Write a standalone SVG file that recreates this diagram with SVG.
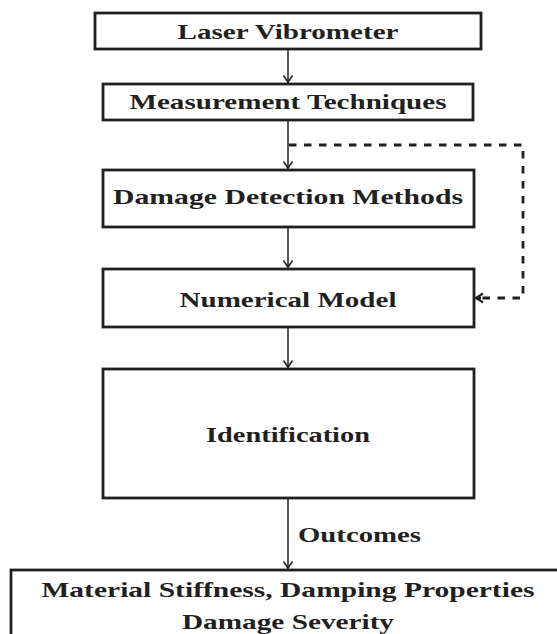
<svg xmlns="http://www.w3.org/2000/svg" width="557" height="634" viewBox="0 0 557 634">
<style>
.box{fill:#fff;stroke:#231f20;stroke-width:2.8}
.lbl{font-family:"Liberation Serif","DejaVu Serif",serif;font-weight:bold;font-size:22px;fill:#231f20;text-anchor:middle}
.ar{fill:none;stroke:#231f20;stroke-width:1.5}
.dash{fill:none;stroke:#231f20;stroke-width:2.8;stroke-dasharray:7.5 7.5}
</style>
<defs>
<marker id="head" viewBox="-8 -6 9 12" refX="0" refY="0" markerWidth="9" markerHeight="12" markerUnits="userSpaceOnUse" orient="auto">
<path d="M -7 -4.5 Q -2 -1 0 0 Q -2 1 -7 4.5" fill="none" stroke="#231f20" stroke-width="1.5"/>
</marker>
<marker id="headb" viewBox="-8 -6 9 12" refX="0" refY="0" markerWidth="9" markerHeight="12" markerUnits="userSpaceOnUse" orient="auto">
<path d="M -7 -4.5 Q -2 -1 0 0 Q -2 1 -7 4.5" fill="none" stroke="#231f20" stroke-width="2.2"/>
</marker>
</defs>
<rect width="557" height="634" fill="#fff"/>
<g id="connectors">
<line class="ar" x1="288" y1="49" x2="288" y2="82.5" marker-end="url(#head)"/>
<line class="ar" x1="288" y1="120" x2="288" y2="168.5" marker-end="url(#head)"/>
<line class="ar" x1="288" y1="227" x2="288" y2="267.5" marker-end="url(#head)"/>
<line class="ar" x1="288" y1="327" x2="288" y2="367.5" marker-end="url(#head)"/>
<line class="ar" x1="288" y1="498" x2="288" y2="568.5" marker-end="url(#head)"/>
<polyline class="dash" points="289,145 523,145 523,298 478,298"/>
<line class="ar" x1="481" y1="298" x2="476" y2="298" marker-end="url(#headb)" style="stroke-width:2.5"/>
<text class="lbl" x="298" y="542" style="text-anchor:start" textLength="123" lengthAdjust="spacingAndGlyphs">Outcomes</text>
</g>
<g id="n1">
<rect class="box" x="95" y="13" width="386" height="36"/>
<text class="lbl" x="288" y="39" textLength="221" lengthAdjust="spacingAndGlyphs">Laser Vibrometer</text>
</g>
<g id="n2">
<rect class="box" x="103" y="84" width="370" height="36"/>
<text class="lbl" x="288" y="109" textLength="317" lengthAdjust="spacingAndGlyphs">Measurement Techniques</text>
</g>
<g id="n3">
<rect class="box" x="103" y="170" width="371" height="57"/>
<text class="lbl" x="288" y="204" textLength="350" lengthAdjust="spacingAndGlyphs">Damage Detection Methods</text>
</g>
<g id="n4">
<rect class="box" x="103" y="269" width="371" height="58"/>
<text class="lbl" x="288" y="307" textLength="217" lengthAdjust="spacingAndGlyphs">Numerical Model</text>
</g>
<g id="n5">
<rect class="box" x="103" y="369" width="371" height="129"/>
<text class="lbl" x="288" y="442" textLength="164" lengthAdjust="spacingAndGlyphs">Identification</text>
</g>
<g id="n6">
<rect class="box" x="11" y="570" width="554" height="90"/>
<text class="lbl" x="288" y="597" textLength="493" lengthAdjust="spacingAndGlyphs">Material Stiffness, Damping Properties</text>
<text class="lbl" x="288" y="629" textLength="212" lengthAdjust="spacingAndGlyphs">Damage Severity</text>
</g>
</svg>
